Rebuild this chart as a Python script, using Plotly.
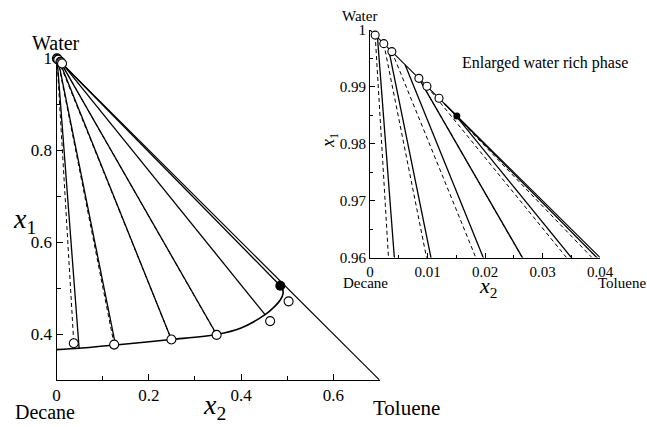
import plotly.graph_objects as go

W, H = 647, 427
FONT = "Liberation Serif"

# ---------------- data ----------------
# calculated tie lines (solid): water-rich end -> organic-rich end
calc_w_x2 = [0.0013, 0.0032, 0.0061, 0.0085, 0.0144, 0.0130]
calc_w_x1 = [0.9987, 0.9968, 0.9939, 0.9915, 0.9856, 0.9870]
calc_o_x2 = [0.049, 0.128, 0.249, 0.347, 0.452, 0.485]
calc_o_x1 = [0.369, 0.376, 0.388, 0.399, 0.442, 0.505]

# experimental tie lines (dashed) and measured phase compositions (open circles)
exp_w_x2 = [0.0009, 0.0024, 0.0038, 0.0085, 0.0099, 0.0120]
exp_w_x1 = [0.9991, 0.9976, 0.9962, 0.9915, 0.9901, 0.9880]
exp_o_x2 = [0.0375, 0.125, 0.249, 0.347, 0.463, 0.503]
exp_o_x1 = [0.380, 0.377, 0.388, 0.398, 0.428, 0.471]
exp_shown_main = [True, True, True, True, False, False]

# calculated binodal curve (organic branch) ending at the plait point
bin_x2 = [0.0, 0.049, 0.128, 0.249, 0.347, 0.400, 0.452, 0.472, 0.485, 0.491, 0.490, 0.485]
bin_x1 = [0.366, 0.369, 0.376, 0.388, 0.399, 0.413, 0.442, 0.459, 0.474, 0.488, 0.497, 0.505]

# plait point (main) and last water-rich calculated point (inset)
plait_x2 = [0.485]
plait_x1 = [0.505]
wblack_x2 = [0.0151]
wblack_x1 = [0.9849]

# water-toluene binary edge
edge_x2 = [0.0, 1.0]
edge_x1 = [1.0, 0.0]

main_xticks = [0, 0.2, 0.4, 0.6]
main_xtext = ["0", "0.2", "0.4", "0.6"]
main_yticks = [0.4, 0.6, 0.8, 1.0]
main_ytext = ["0.4", "0.6", "0.8", "1"]
ins_xticks = [0, 0.01, 0.02, 0.03, 0.04]
ins_xtext = ["0", "0.01", "0.02", "0.03", "0.04"]
ins_yticks = [0.96, 0.97, 0.98, 0.99, 1.0]
ins_ytext = ["0.96", "0.97", "0.98", "0.99", "1"]


def segs(ax, ay, bx, by, mask=None):
    xs, ys = [], []
    for i in range(len(ax)):
        if mask is not None and not mask[i]:
            continue
        xs += [ax[i], bx[i], None]
        ys += [ay[i], by[i], None]
    return xs, ys


fig = go.Figure()

for (xa, ya, inset) in [("x", "y", False), ("x2", "y2", True)]:
    fig.add_trace(go.Scatter(x=edge_x2, y=edge_x1, mode="lines", xaxis=xa, yaxis=ya,
                             line=dict(color="black", width=1.1), showlegend=False, hoverinfo="skip"))
    ex, ey = segs(exp_w_x2, exp_w_x1, exp_o_x2, exp_o_x1, None if inset else exp_shown_main)
    fig.add_trace(go.Scatter(x=ex, y=ey, mode="lines", xaxis=xa, yaxis=ya,
                             line=dict(color="black", width=1.0, dash="4px,3px"),
                             showlegend=False, hoverinfo="skip"))
    cx, cy = segs(calc_w_x2, calc_w_x1, calc_o_x2, calc_o_x1)
    fig.add_trace(go.Scatter(x=cx, y=cy, mode="lines", xaxis=xa, yaxis=ya,
                             line=dict(color="black", width=1.3),
                             showlegend=False, hoverinfo="skip"))
    if not inset:
        fig.add_trace(go.Scatter(x=bin_x2, y=bin_x1, mode="lines", xaxis=xa, yaxis=ya,
                                 line=dict(color="black", width=1.6, shape="spline", smoothing=0.8),
                                 showlegend=False, hoverinfo="skip"))
        fig.add_trace(go.Scatter(x=plait_x2, y=plait_x1, mode="markers", xaxis=xa, yaxis=ya,
                                 marker=dict(size=10, color="black"), cliponaxis=False,
                                 showlegend=False, hoverinfo="skip"))
        fig.add_trace(go.Scatter(x=exp_w_x2 + exp_o_x2, y=exp_w_x1 + exp_o_x1, mode="markers",
                                 xaxis=xa, yaxis=ya, cliponaxis=False,
                                 marker=dict(size=9, color="white", line=dict(color="black", width=1.1)),
                                 showlegend=False, hoverinfo="skip"))
    else:
        fig.add_trace(go.Scatter(x=wblack_x2, y=wblack_x1, mode="markers", xaxis=xa, yaxis=ya,
                                 marker=dict(size=7, color="black"), cliponaxis=False,
                                 showlegend=False, hoverinfo="skip"))
        fig.add_trace(go.Scatter(x=exp_w_x2, y=exp_w_x1, mode="markers",
                                 xaxis=xa, yaxis=ya, cliponaxis=False,
                                 marker=dict(size=8, color="white", line=dict(color="black", width=1.1)),
                                 showlegend=False, hoverinfo="skip"))


def px2paper_x(px):
    return px / W


def px2paper_y(py):
    return 1 - py / H


axis_common = dict(showline=True, linecolor="black", linewidth=1, ticks="inside",
                   tickcolor="black", tickwidth=1, showgrid=False, zeroline=False,
                   fixedrange=True, tickmode="array", automargin=False, layer="below traces")

fig.update_layout(
    template="none",
    width=W, height=H,
    margin=dict(l=0, r=0, t=0, b=0, pad=0, autoexpand=False),
    paper_bgcolor="white", plot_bgcolor="rgba(0,0,0,0)",
    font=dict(family=FONT, color="black", size=15),
    showlegend=False,
    xaxis=dict(domain=[px2paper_x(56.5), px2paper_x(379.5)], range=[0, 0.7], anchor="y",
               tickvals=main_xticks, ticktext=main_xtext, ticklen=6,
               minor=dict(tickvals=[0.1, 0.3, 0.5], ticks="inside", ticklen=4, tickcolor="black"),
               tickfont=dict(family=FONT, size=17, color="black"), **axis_common),
    yaxis=dict(domain=[px2paper_y(380), px2paper_y(58)], range=[0.3, 1.0], anchor="x",
               tickvals=main_yticks, ticktext=main_ytext, ticklen=6,
               minor=dict(tickvals=[0.5, 0.7, 0.9], ticks="inside", ticklen=4, tickcolor="black"),
               tickfont=dict(family=FONT, size=17, color="black"), **axis_common),
    xaxis2=dict(domain=[px2paper_x(370), px2paper_x(600)], range=[0, 0.04], anchor="y2",
                tickvals=ins_xticks, ticktext=ins_xtext, ticklen=5,
                minor=dict(tickvals=[0.005, 0.015, 0.025, 0.035], ticks="inside", ticklen=3, tickcolor="black"),
                tickfont=dict(family=FONT, size=15, color="black"), **axis_common),
    yaxis2=dict(domain=[px2paper_y(257.5), px2paper_y(30)], range=[0.96, 1.0], anchor="x2",
                tickvals=ins_yticks, ticktext=ins_ytext, ticklen=5,
                minor=dict(tickvals=[0.965, 0.975, 0.985, 0.995], ticks="inside", ticklen=3, tickcolor="black"),
                tickfont=dict(family=FONT, size=15, color="black"), **axis_common),
)

labels = [
    ("Water", 55.5, 43, 20, 0),
    ("<i>x</i><sub>1</sub>", 24, 220, 28, 0),
    ("<i>x</i><sub>2</sub>", 214, 406, 28, 0),
    ("Decane", 45, 412, 20, 0),
    ("Toluene", 406, 408, 21, 0),
    ("Water", 359, 16, 15, 0),
    ("Enlarged water rich phase", 545, 63, 16, 0),
    ("Decane", 365, 283, 15, 0),
    ("Toluene", 622, 283, 15, 0),
    ("<i>x</i><sub>2</sub>", 488, 287, 22, 0),
    ("<i>x</i><sub>1</sub>", 330, 140, 18, -90),
]
for text, px, py, size, ang in labels:
    fig.add_annotation(text=text, x=px2paper_x(px), y=px2paper_y(py), xref="paper", yref="paper",
                       xanchor="center", yanchor="middle", showarrow=False, textangle=ang,
                       font=dict(family=FONT, size=size, color="black"))

fig.write_html("out.html", config={"displayModeBar": False},
               post_script="document.documentElement.style.margin='0';document.body.style.margin='0';"
                           "document.body.style.padding='0';document.body.style.overflow='hidden';")
